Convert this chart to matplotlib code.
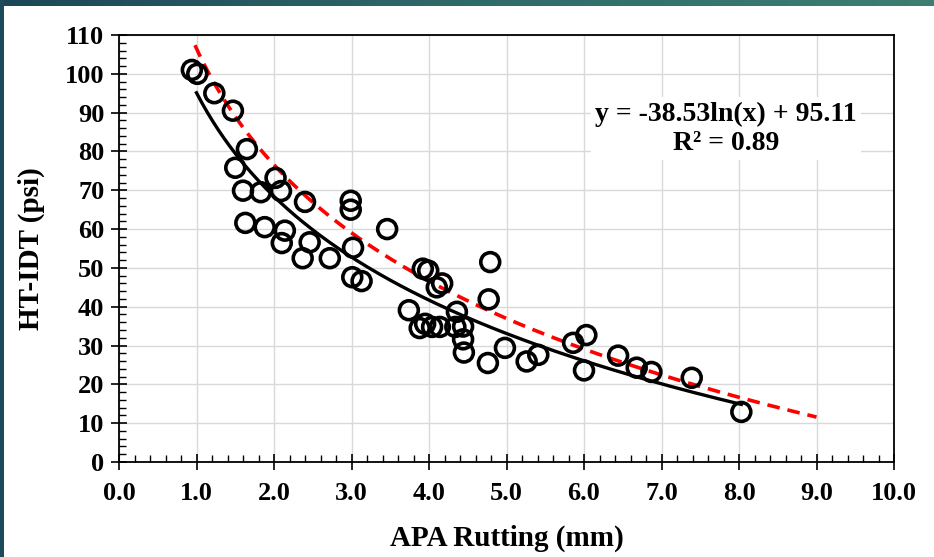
import numpy as np
import matplotlib
matplotlib.use("Agg")
import matplotlib.pyplot as plt
from matplotlib.ticker import MultipleLocator, FormatStrFormatter
from matplotlib.colors import LinearSegmentedColormap

# ---- data ----
apa_rutting = [0.94, 1.01, 1.23, 1.47, 1.65, 1.50, 1.60, 1.83, 2.02, 2.09,
               2.40, 1.63, 1.88, 2.14, 2.10, 2.46, 2.37, 2.72, 2.99, 2.99,
               3.02, 3.01, 3.13, 3.46, 3.92, 3.99, 4.17, 4.10, 4.79, 4.77,
               3.74, 4.36, 3.88, 3.95, 4.04, 4.14, 4.34, 4.44, 4.44, 4.45,
               4.76, 4.98, 5.26, 5.41, 5.86, 6.03, 6.00, 6.44, 6.68, 6.87,
               7.39, 8.03]
ht_idt = [101.0, 100.0, 95.0, 90.5, 80.6, 75.8, 69.9, 69.5, 73.2, 69.8,
          67.0, 61.6, 60.5, 59.6, 56.4, 56.6, 52.5, 52.5, 67.3, 65.0,
          55.2, 47.6, 46.6, 60.0, 49.8, 49.3, 46.0, 45.0, 51.5, 41.9,
          39.1, 38.7, 34.5, 35.6, 34.8, 34.8, 34.8, 34.9, 31.6, 28.2,
          25.5, 29.4, 25.9, 27.6, 30.7, 32.7, 23.6, 27.4, 24.3, 23.2,
          21.7, 12.9]

# trend line (black): y = a*ln(x) + b
fit_a, fit_b = -38.53, 95.11
fit_range = (1.0, 8.03)
# dashed red curve: y = a*ln(x) + b
red_a, red_b = -43.2, 106.5
red_range = (0.98, 9.0)

x_ticks = [0.0, 1.0, 2.0, 3.0, 4.0, 5.0, 6.0, 7.0, 8.0, 9.0, 10.0]
y_ticks = [0, 10, 20, 30, 40, 50, 60, 70, 80, 90, 100, 110]

W, H = 934, 557
fig = plt.figure(figsize=(W / 100, H / 100), dpi=100)
fig.patch.set_facecolor("white")

# decorative border (top gradient, left strip)
top = fig.add_axes([0, 1 - 6 / H, 1, 6 / H])
cmap = LinearSegmentedColormap.from_list("band", ["#1c4657", "#2f6a6a", "#3f7d70"])
top.imshow(np.linspace(0, 1, 256)[None, :], aspect="auto", cmap=cmap, extent=[0, 1, 0, 1])
top.axis("off")
left = fig.add_axes([0, 0, 4 / W, 1])
left.set_facecolor("#1d4a5b")
left.set_xticks([]); left.set_yticks([])
for s in left.spines.values():
    s.set_visible(False)

ax = fig.add_axes([119 / W, 1 - 462 / H, (894 - 119) / W, (462 - 35) / H])

serif = ["Liberation Serif", "DejaVu Serif"]

ax.set_xlim(0, 10)
ax.set_ylim(0, 110)
ax.set_xticks(x_ticks)
ax.set_yticks(y_ticks)
ax.xaxis.set_major_formatter(FormatStrFormatter("%.1f"))
ax.xaxis.set_minor_locator(MultipleLocator(0.2))
ax.yaxis.set_minor_locator(MultipleLocator(2))
ax.grid(True, which="major", color="#d9d9d9", lw=1.0, zorder=0)
ax.set_axisbelow(True)

ax.tick_params(which="major", direction="inout", length=11, width=1.2, colors="black",
               labelsize=19)
ax.tick_params(axis="x", which="major", pad=9)
ax.tick_params(axis="y", which="major", pad=5)
ax.tick_params(which="minor", direction="in", length=5, width=1.0)
for lab in ax.get_xticklabels() + ax.get_yticklabels():
    lab.set_fontfamily(serif)
    lab.set_fontweight("bold")
for s in ax.spines.values():
    s.set_color("black")
    s.set_linewidth(1.3)

# curves
xr = np.linspace(red_range[0], red_range[1], 300)
ax.plot(xr, red_a * np.log(xr) + red_b, color="#ff0000", lw=2.6,
        dashes=(3.5, 2.2), zorder=3)
xf = np.linspace(fit_range[0], fit_range[1], 300)
ax.plot(xf, fit_a * np.log(xf) + fit_b, color="black", lw=2.4, zorder=4)

# points
ax.scatter(apa_rutting, ht_idt, s=185, facecolors="none", edgecolors="black",
           linewidths=2.6, zorder=5)

# equation
ax.text(7.83, 85.9, "y = -38.53ln(x) + 95.11\nR² = 0.89", ha="center", va="center",
        fontsize=20, fontweight="bold", family=serif, linespacing=1.2,
        bbox=dict(facecolor="white", edgecolor="none", pad=3), zorder=6)

ax.set_xlabel("APA Rutting (mm)", fontsize=21, fontweight="bold", family=serif, labelpad=14)
ax.set_ylabel("HT-IDT (psi)", fontsize=21, fontweight="bold", family=serif, labelpad=14)

fig.savefig("out.png", dpi=100)
